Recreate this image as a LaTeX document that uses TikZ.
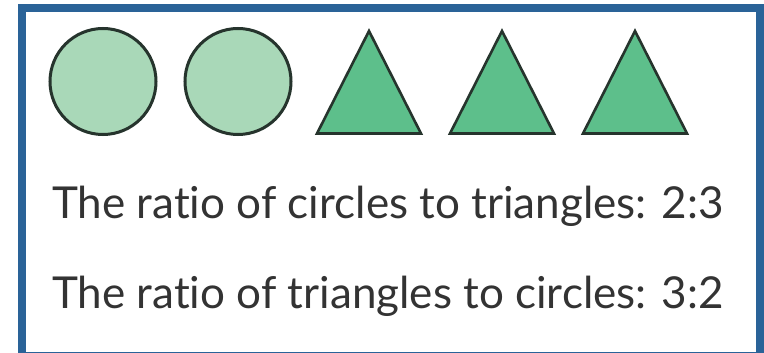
\documentclass[tikz,border=0pt]{standalone}
\usepackage{fontspec}
\setmainfont[Ligatures={NoCommon,NoRare}]{Lato}
\definecolor{frameblue}{HTML}{2A6398}
\definecolor{circfill}{HTML}{A9D8B8}
\definecolor{trifill}{HTML}{5DBF8B}
\definecolor{edge}{HTML}{26342D}
\definecolor{txt}{HTML}{333333}
\begin{document}
\begin{tikzpicture}[x=1pt,y=-1pt,
  circ/.style={draw=edge,line width=3pt,fill=circfill},
  tri/.style={draw=edge,line width=2.6pt,fill=trifill,line join=miter},
  label/.style={anchor=base west,inner sep=0pt,text=txt,font=\fontsize{44}{48}\selectfont}]
\useasboundingbox (0,0) rectangle (764,353);
\fill[white] (0,0) rectangle (764,353);
\draw[frameblue,line width=8pt] (22,8) rectangle (760,356);
\draw[circ] (103,81.5) circle (53);
\draw[circ] (238,81.5) circle (53);
\draw[tri] (317,133.5) -- (369,31) -- (421,133.5) -- cycle;
\draw[tri] (450,133.5) -- (502,31) -- (554,133.5) -- cycle;
\draw[tri] (583,133.5) -- (635,31) -- (687,133.5) -- cycle;
\node[label] (l1) at (52,218) {The ratio of circles to triangles: 2:3};
\node[label] (l2) at (52,308) {The ratio of triangles to circles: 3:2};
\end{tikzpicture}
\end{document}
